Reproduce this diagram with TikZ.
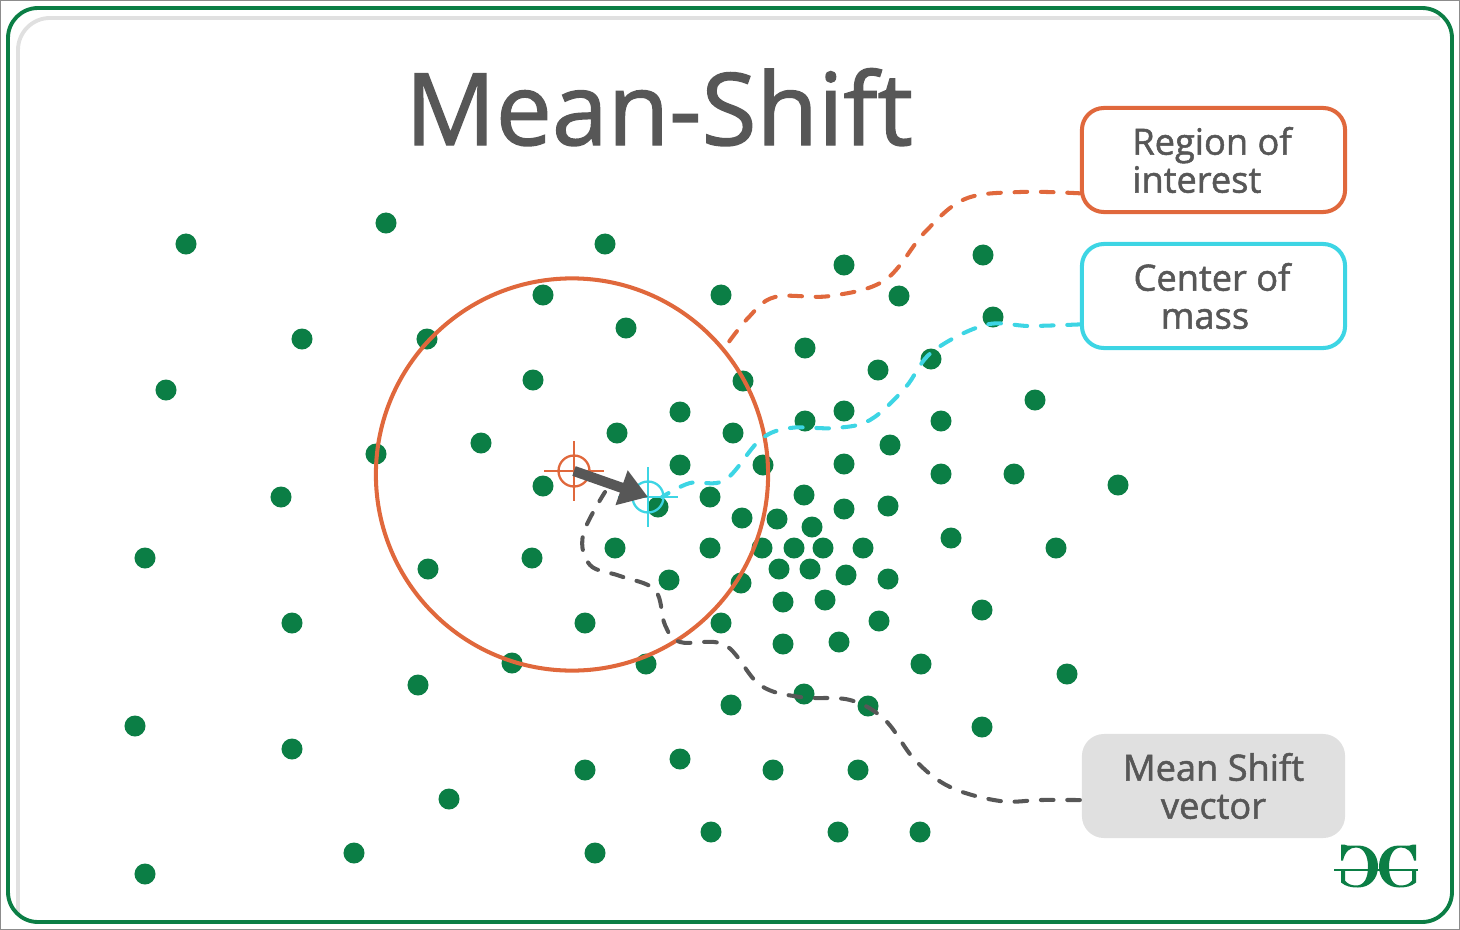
\documentclass[tikz,border=0pt]{standalone}
\usepackage{fontspec}
\setmainfont[FakeBold=1.4]{Open Sans}
\usetikzlibrary{arrows.meta}
\definecolor{dotgreen}{HTML}{0B7E45}
\definecolor{roiorange}{HTML}{E0683C}
\definecolor{masscyan}{HTML}{3DD5E4}
\definecolor{textgray}{HTML}{575757}
\definecolor{boxgray}{HTML}{E0E0E0}
\tikzset{
  dot/.style={circle,fill=dotgreen,inner sep=0,minimum size=.21cm},
  labelbox/.style={rounded corners=.22cm,line width=1.15pt,minimum width=2.63cm,minimum height=1.04cm,
    inner sep=0,align=center,text=textgray,font=\fontsize{10.3}{10.8}\selectfont},
  sight/.style={circle,draw,line width=.65pt,inner sep=0,minimum size=.31cm},
  wire/.style={dash pattern=on 3.6pt off 3.9pt,line width=1.15pt,line cap=round},
}
\begin{document}
\begin{tikzpicture}[x=.01cm,y=-.01cm]
\useasboundingbox (0,0) rectangle (1460,930);
\draw[gray!90,line width=.5pt] (0,0) rectangle (1460,930);
% frame
\draw[boxgray,line width=1.1pt] (18,915) -- (18,50) arc[start angle=180,end angle=90,radius=.32cm] -- (1440,18);
\draw[dotgreen,line width=1.1pt,rounded corners=.3cm] (8,8) rectangle (1452,922);
\node[anchor=base,text=textgray,font=\fontsize{28.5}{30}\selectfont] (title) at (659,145) {Mean-Shift};
% points
\foreach \x/\y [count=\i] in {186/244,386/223,605/244,543/295,721/295,844/265,899/296,983/255,993/317,
  302/339,427/339,626/328,805/348,166/390,533/380,743/381,878/370,931/359,1035/400,680/412,805/421,
  844/411,941/421,481/443,617/433,733/433,890/445,376/454,680/465,763/465,844/464,941/474,1014/474,
  1118/485,281/497,543/486,710/497,804/495,844/509,888/506,658/507,742/518,777/519,812/527,951/538,
  145/558,532/558,615/548,710/548,762/548,794/548,823/548,863/548,1056/548,428/569,779/569,810/569,
  846/575,888/579,669/580,741/583,783/602,825/600,982/610,292/623,585/623,721/623,879/621,783/644,
  839/642,921/664,1067/674,512/663,646/664,418/685,731/705,804/694,868/706,135/726,982/727,292/749,
  585/770,680/759,773/770,858/770,449/799,711/832,838/832,920/832,354/853,595/853,145/874}
  \node[dot] (p\i) at (\x,\y) {};
% labels
\node[labelbox,draw=roiorange,align=left] (region) at (1213.5,160) {\hspace*{-.03cm}Region of\\\hspace*{-.03cm}interest\hspace*{.28cm}};
\node[labelbox,draw=masscyan] (mass) at (1213.5,296) {\hspace*{-.03cm}Center of\\mass\hspace*{.17cm}};
\node[labelbox,fill=boxgray] (shift) at (1213.5,786) {Mean Shift\\vector};
% window
\node[circle,draw=roiorange,line width=1.15pt,inner sep=0,minimum size=3.92cm] (window) at (572,474.5) {};
\node[sight,draw=roiorange] (oldc) at (574,471) {};
\node[sight,draw=masscyan] (newc) at (648,497) {};
\draw[roiorange,line width=.65pt] (544,471) -- (604,471) (574,441) -- (574,501);
\draw[masscyan,line width=.65pt] (618,497) -- (678,497) (648,467) -- (648,527);
\coordinate (regionend) at (723,350);
\coordinate (massend) at (662,497);
\coordinate (shiftend) at (605,492);
\draw[wire,roiorange] plot[smooth,tension=.6] coordinates {(region.194) (1020,192) (965,199) (925,232)
  (885,280) (830,296) (775,297) (748,318) (regionend)};
\draw[wire,masscyan] plot[smooth,tension=.6] coordinates {(mass.192) (1030,326) (985,325) (932,352)
  (905,388) (870,420) (835,428) (790,428) (760,440) (725,480) (690,483) (massend)};
\draw[wire,textgray] plot[smooth,tension=.6] coordinates {(shift.186) (1040,800) (1000,801) (950,787)
  (915,760) (885,720) (850,700) (800,697) (760,685) (725,645) (680,642) (665,625) (655,590)
  (620,576) (590,565) (583,535) (shiftend)};
\draw[textgray,line width=2.9pt,-{Triangle[length=.28cm,width=.35cm]}] (oldc.center) -- (newc.center);
% logo
\fill[dotgreen] (1334,869) rectangle (1418,871);
\foreach \s/\c in {-1/1378,1/1379}
  \fill[dotgreen,shift={(\c,866.5)},xscale=\s]
    (34,-22) -- (37,-22) -- (37,-6) -- (35,-6) .. controls (33,-15) and (28,-19) .. (22,-19)
    .. controls (14,-19) and (10,-10) .. (10,0) .. controls (10,12) and (14,19) .. (22,19)
    .. controls (27,19) and (31,17) .. (33,14) -- (33,4) -- (37,4) -- (37,16)
    .. controls (32,20) and (27,21) .. (20,21) .. controls (8,21) and (0,12) .. (0,0)
    .. controls (0,-12) and (8,-21) .. (20,-21) .. controls (25,-21) and (30,-20) .. (34,-22) -- cycle;
\end{tikzpicture}
\end{document}
